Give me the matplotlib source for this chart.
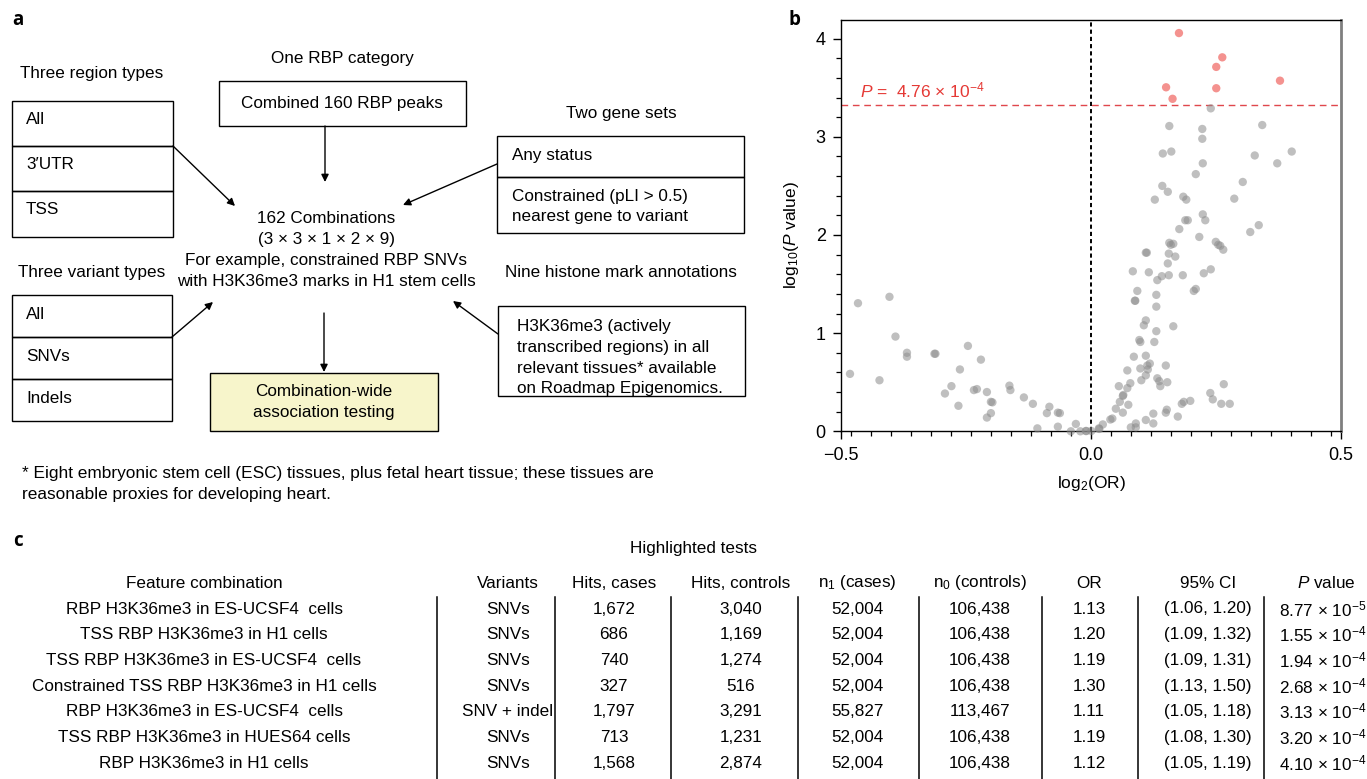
import numpy as np
import matplotlib
matplotlib.use("Agg")
import matplotlib.pyplot as plt
from matplotlib.patches import Rectangle
from matplotlib.ticker import FixedLocator

plt.rcParams['font.family'] = ['Liberation Sans', 'DejaVu Sans']
plt.rcParams['mathtext.fontset'] = 'custom'
plt.rcParams['mathtext.rm'] = 'Liberation Sans'
plt.rcParams['mathtext.it'] = 'Liberation Sans:italic'
plt.rcParams['mathtext.bf'] = 'Liberation Sans:bold'
plt.rcParams['lines.scale_dashes'] = False

# ---------------- panel a: design text ----------------
region_types = ["All", "3\u2032UTR", "TSS"]
variant_types = ["All", "SNVs", "Indels"]
rbp_category = "Combined 160 RBP peaks"
gene_sets = ["Any status", "Constrained (pLI > 0.5)\nnearest gene to variant"]
histone_text = ["H3K36me3 (actively", "transcribed regions) in all",
                "relevant tissues* available", "on Roadmap Epigenomics."]
combo_lines = ["162 Combinations", "(3 \u00d7 3 \u00d7 1 \u00d7 2 \u00d7 9)",
               "For example, constrained RBP SNVs",
               "with H3K36me3 marks in H1 stem cells"]
footnote = ["* Eight embryonic stem cell (ESC) tissues, plus fetal heart tissue; these tissues are",
            "reasonable proxies for developing heart."]

# ---------------- panel b: volcano data ----------------
# log2(OR) and -log10(P) of the tests that do not pass the threshold
grey_log2_or = [
    0.240, 0.157, 0.223, 0.343, 0.223, 0.144, 0.161, 0.328, 0.402, 0.224,
    0.373, 0.210, 0.304, 0.143, 0.154, 0.128, 0.185, 0.191, 0.287, 0.224,
    0.189, 0.194, 0.229, 0.177, 0.336, 0.319, 0.217, 0.157, 0.165, 0.160,
    0.250, 0.255, 0.259, 0.265, 0.156, 0.169, 0.110, 0.112, 0.154, 0.084,
    0.116, 0.133, 0.142, 0.156, 0.184, 0.226, 0.240, 0.206, 0.210, 0.093,
    0.088, 0.089, 0.131, 0.131, 0.110, 0.106, 0.165, 0.131, 0.127, 0.097,
    0.099, 0.086, 0.110, 0.118, 0.113, 0.150, 0.073, 0.099, 0.114, 0.110,
    0.101, 0.133, 0.137, 0.139, 0.153, 0.079, 0.056, 0.073, 0.065, 0.064,
    0.058, 0.075, 0.050, 0.064, 0.039, 0.043, 0.024, 0.016, 0.001, -0.010,
    -0.021, 0.080, 0.090, 0.090, 0.110, 0.125, 0.125, 0.150, 0.152, 0.174,
    0.182, 0.186, 0.199, 0.239, 0.244, 0.261, 0.266, 0.278,
    -0.482, -0.466, -0.423, -0.403, -0.391, -0.368, -0.368, -0.313, -0.311, -0.292,
    -0.279, -0.265, -0.262, -0.246, -0.234, -0.228, -0.220, -0.208, -0.208, -0.200,
    -0.197, -0.200, -0.163, -0.161, -0.134, -0.116, -0.107, -0.088, -0.083, -0.066,
    -0.062, -0.066, -0.030, -0.040, -0.009, 0.017,
]
grey_neglog10_p = [
    3.29, 3.11, 3.08, 3.12, 2.98, 2.83, 2.85, 2.81, 2.85, 2.73,
    2.73, 2.62, 2.54, 2.50, 2.44, 2.36, 2.39, 2.36, 2.37, 2.21,
    2.15, 2.15, 2.15, 2.06, 2.10, 2.03, 1.98, 1.92, 1.91, 1.90,
    1.93, 1.90, 1.89, 1.85, 1.81, 1.78, 1.82, 1.82, 1.71, 1.63,
    1.62, 1.54, 1.58, 1.59, 1.59, 1.61, 1.65, 1.43, 1.45, 1.43,
    1.33, 1.33, 1.39, 1.27, 1.13, 1.08, 1.07, 1.02, 0.91, 0.93,
    0.91, 0.76, 0.77, 0.69, 0.67, 0.67, 0.62, 0.64, 0.63, 0.57,
    0.52, 0.54, 0.51, 0.46, 0.50, 0.49, 0.46, 0.44, 0.37, 0.36,
    0.30, 0.27, 0.23, 0.19, 0.12, 0.13, 0.07, 0.03, 0.003, 0.003,
    0.0, 0.04, 0.08, 0.04, 0.115, 0.18, 0.08, 0.19, 0.22, 0.15,
    0.28, 0.30, 0.31, 0.39, 0.325, 0.28, 0.48, 0.28,
    0.585, 1.305, 0.52, 1.37, 0.965, 0.80, 0.76, 0.79, 0.79, 0.385,
    0.46, 0.26, 0.63, 0.87, 0.42, 0.43, 0.73, 0.40, 0.14, 0.30,
    0.295, 0.185, 0.465, 0.42, 0.345, 0.28, 0.03, 0.185, 0.25, 0.19,
    0.185, 0.047, 0.075, 0.0, 0.003, 0.024,
]
p_threshold = 4.76e-4

# ---------------- panel c: highlighted tests ----------------
features = ["RBP H3K36me3 in ES-UCSF4  cells",
            "TSS RBP H3K36me3 in H1 cells",
            "TSS RBP H3K36me3 in ES-UCSF4  cells",
            "Constrained TSS RBP H3K36me3 in H1 cells",
            "RBP H3K36me3 in ES-UCSF4  cells",
            "TSS RBP H3K36me3 in HUES64 cells",
            "RBP H3K36me3 in H1 cells"]
variants = ["SNVs", "SNVs", "SNVs", "SNVs", "SNV + indel", "SNVs", "SNVs"]
hits_cases = [1672, 686, 740, 327, 1797, 713, 1568]
hits_controls = [3040, 1169, 1274, 516, 3291, 1231, 2874]
n_cases = [52004, 52004, 52004, 52004, 55827, 52004, 52004]
n_controls = [106438, 106438, 106438, 106438, 113467, 106438, 106438]
odds_ratio = [1.13, 1.20, 1.19, 1.30, 1.11, 1.19, 1.12]
ci_low = [1.06, 1.09, 1.09, 1.13, 1.05, 1.08, 1.05]
ci_high = [1.20, 1.32, 1.31, 1.50, 1.18, 1.30, 1.19]
p_values = [8.77e-5, 1.55e-4, 1.94e-4, 2.68e-4, 3.13e-4, 3.20e-4, 4.10e-4]
headers = ["Feature combination", "Variants", "Hits, cases", "Hits, controls",
           "n$_1$ (cases)", "n$_0$ (controls)", "OR", "95% CI", "$P$ value"]


def sci(p):
    e = int(np.floor(np.log10(p)))
    m = p / 10.0 ** e
    return f"{m:.2f} \u00d7 10$^{{-{abs(e)}}}$"


W, H = 1367, 779
fig = plt.figure(figsize=(W / 100, H / 100), dpi=100)
fig.patch.set_facecolor("white")
cv = fig.add_axes([0, 0, 1, 1])
cv.set_xlim(0, W)
cv.set_ylim(H, 0)
cv.axis("off")

FS = 12.3
LW = 1.0
label_font = dict(fontsize=13.5, fontweight="bold", family=["Open Sans", "DejaVu Sans"])


def txt(x, y, s, ha="center", fs=FS, **kw):
    cv.text(x, y, s, ha=ha, va="center", fontsize=fs, **kw)


def box(x0, y0, x1, y1, fc="none"):
    cv.add_patch(Rectangle((x0, y0), x1 - x0, y1 - y0, fill=fc != "none",
                           facecolor=fc, edgecolor="black", lw=LW))


def arrow(x0, y0, x1, y1):
    cv.annotate("", xy=(x1, y1), xytext=(x0, y0),
                arrowprops=dict(arrowstyle="-|>", lw=LW, color="black",
                                mutation_scale=11, shrinkA=0, shrinkB=0))


# panel letters
cv.text(18, 20, "a", ha="center", va="center", **label_font)
cv.text(795, 20, "b", ha="center", va="center", **label_font)
cv.text(18, 541, "c", ha="center", va="center", **label_font)

# region types
txt(92, 73, "Three region types")
edges = [101, 146, 191, 237]
for i, lab in enumerate(region_types):
    box(12, edges[i], 173, edges[i + 1])
    txt(26, edges[i] + 18, lab, ha="left")

# variant types
txt(92, 272, "Three variant types")
edges = [295, 337, 379, 421]
for i, lab in enumerate(variant_types):
    box(12, edges[i], 172, edges[i + 1])
    txt(26, edges[i] + 19, lab, ha="left")

# RBP category
txt(342, 58, "One RBP category")
box(219, 81, 466, 126)
txt(342, 103, rbp_category)

# combinations
for y, s in zip([218, 239, 260, 281], combo_lines):
    txt(326, y, s)
box(210, 373, 438, 431, fc="#f7f5cb")
txt(324, 391, "Combination-wide")
txt(324, 412, "association testing")

# gene sets
txt(621, 113, "Two gene sets")
box(497, 136, 744, 177)
box(497, 177, 744, 233)
txt(512, 155, gene_sets[0], ha="left")
for y, s in zip([196, 216], gene_sets[1].split("\n")):
    txt(512, y, s, ha="left")

# histone annotations
txt(621, 272, "Nine histone mark annotations")
box(498, 306, 745, 396)
for y, s in zip([326, 347, 368, 388], histone_text):
    txt(517, y, s, ha="left")

# arrows
arrow(325, 126, 325, 182)
arrow(324, 313, 324, 372)
arrow(173, 146, 235, 206)
arrow(172, 337, 213, 302)
arrow(497, 164, 403, 205)
arrow(498, 334, 453, 301)

# footnote
for y, s in zip([473, 494], footnote):
    txt(22, y, s, ha="left", fs=12.4)

# ---------------- panel b ----------------
x0p, x1p, y0p, y1p = 841, 1340.7, 20, 431.3
ax = fig.add_axes([x0p / W, 1 - y1p / H, (x1p - x0p) / W, (y1p - y0p) / H])
ax.set_xlim(-0.5, 0.5)
ax.set_ylim(0, 4.19)
ax.scatter(grey_log2_or, grey_neglog10_p, s=36, color="#8c8c8c", alpha=0.55,
           edgecolors="none", zorder=3, clip_on=False)
red_x = np.log2(odds_ratio)
red_y = -np.log10(p_values)
ax.scatter(red_x, red_y, s=36, color="#ee4f4a", alpha=0.62,
           edgecolors="none", zorder=4)
ax.axvline(0, color="black", lw=1.4, linestyle=(0, (3.0, 2.2)), zorder=2)
ax.axhline(-np.log10(p_threshold), color="#e0474c", lw=1.0,
           linestyle=(0, (4.8, 3.4)), zorder=2)
ax.text(-0.462, -np.log10(p_threshold) + 0.15,
        f"$P$ =  {p_threshold / 1e-4:.2f} \u00d7 10$^{{-4}}$",
        color="#e53935", fontsize=12.5, ha="left", va="center")

ax.xaxis.set_major_locator(FixedLocator([-0.5, 0.0, 0.5]))
ax.xaxis.set_minor_locator(FixedLocator(np.arange(-12, 13) * 0.04))
ax.set_xticklabels(["\u22120.5", "0.0", "0.5"])
ax.yaxis.set_major_locator(FixedLocator([0, 1, 2, 3, 4]))
ax.yaxis.set_minor_locator(FixedLocator(np.arange(0, 21) * 0.2))
ax.tick_params(which="major", direction="out", length=6, width=1.0,
               labelsize=13, pad=5)
ax.tick_params(which="minor", direction="out", length=3.5, width=0.9)
for side in ["left", "bottom", "top"]:
    ax.spines[side].set_color("black")
    ax.spines[side].set_linewidth(1.0)
ax.spines["right"].set_color("#7f7f7f")
ax.spines["right"].set_linewidth(2.0)
ax.set_xlabel("log$_2$(OR)", fontsize=12.5)
ax.set_ylabel("log$_{10}$($P$ value)", fontsize=12.5)
ax.xaxis.set_label_coords(0.502, -0.104)
ax.yaxis.set_label_coords(-0.080, 0.477)

# ---------------- panel c ----------------
txt(694, 549, "Highlighted tests", fs=FS)
col_x = [204, 508, 614, 741, 857, 980, 1089, 1208, 1323]
header_y = 583
row_y = [609 + 25.7 * i for i in range(len(features))]
for x, h in zip(col_x[:-1], headers[:-1]):
    txt(x, header_y, h, fs=FS)
txt(1326, header_y, headers[-1], fs=FS)
for x in [437, 555, 671, 798, 919, 1042, 1138, 1264]:
    cv.plot([x, x], [597, H], color="black", lw=1.1)
for i, y in enumerate(row_y):
    cells = [features[i], variants[i], f"{hits_cases[i]:,}", f"{hits_controls[i]:,}",
             f"{n_cases[i]:,}", f"{n_controls[i]:,}", f"{odds_ratio[i]:.2f}",
             f"({ci_low[i]:.2f}, {ci_high[i]:.2f})", sci(p_values[i])]
    for x, s in zip(col_x, cells):
        txt(x, y, s, fs=FS)

fig.savefig("out.png", dpi=100, facecolor="white")
